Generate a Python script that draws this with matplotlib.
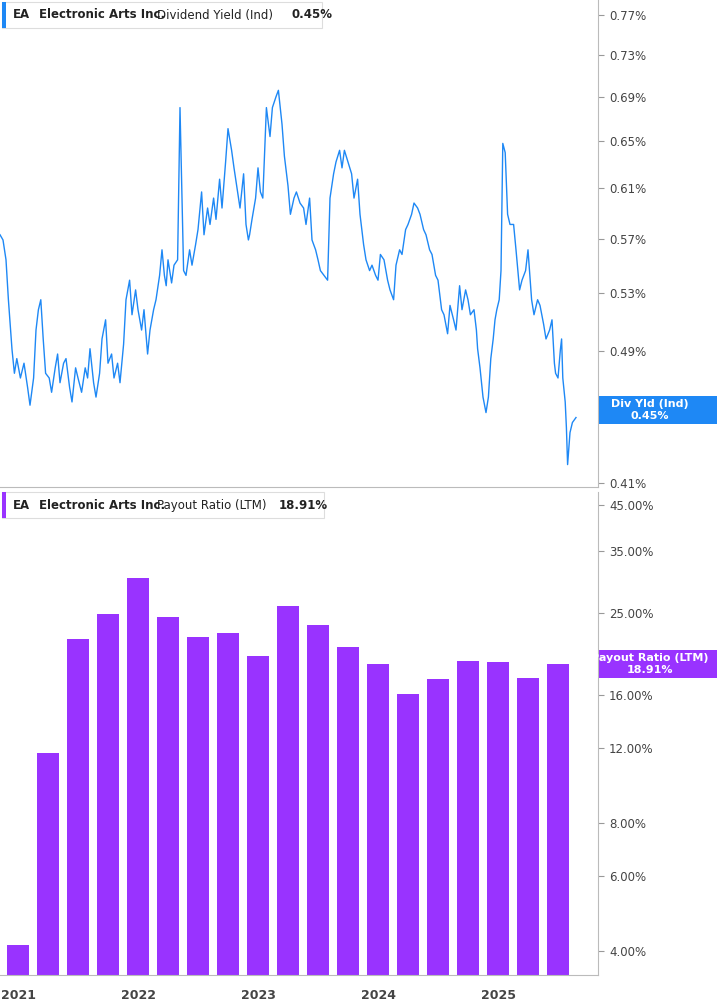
import numpy as np
import matplotlib
matplotlib.use("Agg")
import matplotlib.pyplot as plt
from matplotlib.ticker import FixedLocator, NullLocator

# ---- data ----
yield_x = [2020.85,2020.875,2020.90,2020.92,2020.95,2020.97,2020.99,2021.02,2021.05,2021.08,2021.10,2021.13,2021.15,2021.17,2021.19,2021.21,2021.23,2021.26,2021.28,2021.31,2021.33,2021.35,2021.38,2021.40,2021.43,2021.45,2021.48,2021.50,2021.53,2021.56,2021.58,2021.60,2021.63,2021.65,2021.68,2021.70,2021.73,2021.75,2021.78,2021.80,2021.83,2021.85,2021.88,2021.90,2021.93,2021.95,2021.98,2022.00,2022.03,2022.05,2022.08,2022.10,2022.13,2022.15,2022.18,2022.20,2022.22,2022.235,2022.25,2022.28,2022.30,2022.33,2022.35,2022.38,2022.40,2022.43,2022.45,2022.48,2022.50,2022.53,2022.55,2022.58,2022.60,2022.63,2022.65,2022.68,2022.70,2022.73,2022.75,2022.78,2022.80,2022.83,2022.85,2022.88,2022.90,2022.92,2022.93,2022.95,2022.98,2023.00,2023.02,2023.04,2023.07,2023.10,2023.12,2023.15,2023.17,2023.20,2023.22,2023.25,2023.27,2023.30,2023.32,2023.35,2023.38,2023.40,2023.43,2023.45,2023.48,2023.50,2023.52,2023.55,2023.58,2023.60,2023.63,2023.65,2023.68,2023.70,2023.72,2023.75,2023.78,2023.80,2023.83,2023.85,2023.88,2023.90,2023.93,2023.95,2023.98,2024.00,2024.02,2024.05,2024.08,2024.10,2024.13,2024.15,2024.18,2024.20,2024.23,2024.25,2024.28,2024.30,2024.33,2024.35,2024.38,2024.40,2024.43,2024.45,2024.48,2024.50,2024.53,2024.55,2024.58,2024.60,2024.63,2024.65,2024.68,2024.70,2024.73,2024.75,2024.77,2024.80,2024.82,2024.83,2024.85,2024.875,2024.90,2024.92,2024.94,2024.96,2024.975,2024.99,2025.01,2025.025,2025.04,2025.06,2025.08,2025.10,2025.13,2025.15,2025.18,2025.20,2025.23,2025.25,2025.28,2025.30,2025.33,2025.35,2025.38,2025.40,2025.43,2025.45,2025.47,2025.48,2025.50,2025.52,2025.53,2025.54,2025.56,2025.57,2025.58,2025.60,2025.62,2025.63,2025.65]
yield_v = [0.573,0.569,0.554,0.525,0.491,0.4755,0.485,0.4725,0.482,0.4665,0.4555,0.4725,0.504,0.518,0.525,0.498,0.4755,0.4725,0.4635,0.479,0.488,0.4695,0.482,0.485,0.4665,0.4575,0.479,0.4725,0.4635,0.479,0.4725,0.4915,0.4695,0.4605,0.4755,0.498,0.511,0.482,0.488,0.4725,0.482,0.4695,0.4945,0.525,0.539,0.5145,0.532,0.518,0.504,0.518,0.488,0.504,0.518,0.525,0.5425,0.5615,0.5425,0.535,0.554,0.537,0.550,0.554,0.680,0.546,0.5425,0.5615,0.550,0.5655,0.577,0.607,0.573,0.594,0.581,0.602,0.585,0.6175,0.594,0.632,0.661,0.642,0.627,0.607,0.594,0.622,0.581,0.569,0.573,0.585,0.602,0.627,0.607,0.602,0.680,0.654,0.680,0.690,0.696,0.665,0.637,0.612,0.589,0.602,0.607,0.598,0.594,0.581,0.602,0.569,0.5615,0.554,0.546,0.5425,0.539,0.602,0.622,0.632,0.642,0.627,0.642,0.632,0.622,0.602,0.6175,0.589,0.5655,0.554,0.546,0.550,0.5425,0.539,0.558,0.554,0.539,0.532,0.525,0.550,0.5615,0.558,0.577,0.581,0.589,0.598,0.594,0.589,0.577,0.573,0.5615,0.558,0.5425,0.539,0.518,0.5145,0.5015,0.521,0.511,0.504,0.535,0.518,0.532,0.525,0.5145,0.518,0.504,0.4915,0.479,0.4605,0.451,0.4605,0.485,0.498,0.511,0.518,0.525,0.546,0.648,0.640,0.589,0.581,0.581,0.5615,0.532,0.539,0.546,0.5615,0.525,0.5145,0.525,0.521,0.508,0.498,0.504,0.511,0.482,0.4755,0.4725,0.491,0.498,0.4725,0.4575,0.442,0.4205,0.439,0.445,0.446,0.448]

bar_x = [2021.0,2021.25,2021.5,2021.75,2022.0,2022.25,2022.5,2022.75,2023.0,2023.25,2023.5,2023.75,2024.0,2024.25,2024.5,2024.75,2025.0,2025.25,2025.5]
bar_v = [4.13,11.7,21.7,24.8,30.2,24.4,22.0,22.4,19.8,26.0,23.4,20.8,19.0,16.1,17.5,19.3,19.2,17.6,18.91]

top_ticks = [0.41,0.45,0.49,0.53,0.57,0.61,0.65,0.69,0.73,0.77]
bot_ticks = [4,6,8,12,16,25,35,45]
years = [2021,2022,2023,2024,2025]

BLUE = "#1E88F5"
PURP = "#9933FF"
GRAY = "#444444"

W, H = 717, 1005
fig = plt.figure(figsize=(W/100, H/100), dpi=100)
def box(l, t, r, b):
    return [l/W, 1-b/H, (r-l)/W, (b-t)/H]

ax1 = fig.add_axes(box(0, 0, 598, 487))
ax2 = fig.add_axes(box(0, 492, 598, 975))
x0, x1 = 2020.85, 2021 + 580/120
for ax in (ax1, ax2):
    ax.set_xlim(x0, x1)
    ax.set_yscale("log")
    ax.yaxis.tick_right()
    ax.yaxis.set_minor_locator(NullLocator())
    for s in ("left", "top"):
        ax.spines[s].set_visible(False)
    for s in ("right", "bottom"):
        ax.spines[s].set_color("#bbbbbb")
    ax.tick_params(axis="y", colors="#999999", labelcolor=GRAY, labelsize=8.5, length=4, pad=4)

ax1.plot(yield_x, yield_v, color=BLUE, lw=1.0)
ax1.set_ylim(0.408, 0.786)
ax1.yaxis.set_major_locator(FixedLocator(top_ticks))
ax1.set_yticklabels([f"{t:.2f}%" for t in top_ticks])
ax1.set_xticks([])

ax2.bar(bar_x, bar_v, width=0.185, color=PURP, bottom=0.01)
ax2.set_ylim(3.51, 48.2)
ax2.yaxis.set_major_locator(FixedLocator(bot_ticks))
ax2.set_yticklabels([f"{t:.2f}%" for t in bot_ticks])
ax2.set_xticks(years)
ax2.set_xticklabels([str(y) for y in years], fontsize=9, color=GRAY, fontweight="bold")
ax2.tick_params(axis="x", length=0, pad=10)

# headers
def header(y, color, text, val, w):
    fig.patches.append(plt.Rectangle((2/W, 1-(y+13)/H), w/W, 26/H, transform=fig.transFigure,
                                     facecolor="white", edgecolor="#dddddd", lw=0.8))
    fig.patches.append(plt.Rectangle((2/W, 1-(y+13)/H), 4/W, 26/H, transform=fig.transFigure,
                                     facecolor=color, edgecolor="none"))
    fig.text(13/W, 1-y/H, "EA", fontsize=8.5, fontweight="bold", color="#222222", va="center")
    fig.text(39/W, 1-y/H, "Electronic Arts Inc.", fontsize=8.5, fontweight="bold", color="#222222", va="center")
    fig.text(157/W, 1-y/H, text, fontsize=8.5, color="#222222", va="center")
    fig.text((157+len(text)*6.1+12)/W, 1-y/H, val, fontsize=8.5, fontweight="bold", color="#222222", va="center")
header(15, BLUE, "Dividend Yield (Ind)", "0.45%", 320)
header(505, PURP, "Payout Ratio (LTM)", "18.91%", 322)

def rlabel(yc, color, l1, l2):
    fig.patches.append(plt.Rectangle((599/W, 1-(yc+14)/H), 118/W, 28/H, transform=fig.transFigure,
                                     facecolor=color, edgecolor="none"))
    fig.text(650/W, 1-(yc-6)/H, l1, fontsize=8, fontweight="bold", color="white", ha="center", va="center")
    fig.text(650/W, 1-(yc+6)/H, l2, fontsize=8, fontweight="bold", color="white", ha="center", va="center")
rlabel(410, BLUE, "Div Yld (Ind)", "0.45%")
rlabel(664, PURP, "Payout Ratio (LTM)", "18.91%")

fig.savefig("out.png", dpi=100)
